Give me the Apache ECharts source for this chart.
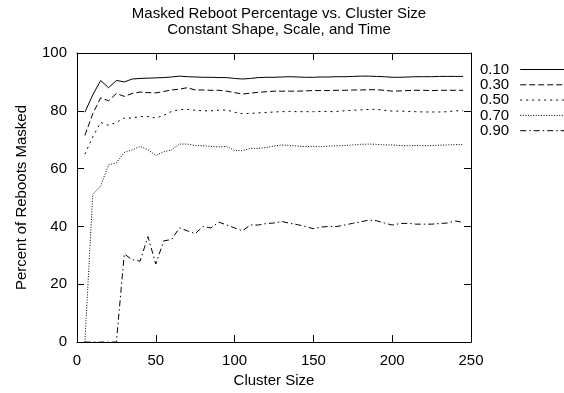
<!DOCTYPE html>
<html>
<head>
<meta charset="utf-8">
<title>Masked Reboot Percentage vs. Cluster Size</title>
<script src="https://cdn.jsdelivr.net/npm/echarts@6/dist/echarts.min.js"></script>
<style>
  html, body { margin: 0; padding: 0; background: #fff; }
  #chart { width: 564px; height: 393px; }
</style>
</head>
<body>
<div id="chart"></div>
<script>
// cluster sizes sampled every 5
const clusterSize = [5, 10, 15, 20, 25, 30, 35, 40, 45, 50, 55, 60, 65, 70, 75, 80, 85, 90, 95, 100,
  105, 110, 115, 120, 125, 130, 135, 140, 145, 150, 155, 160, 165, 170, 175, 180, 185, 190, 195, 200,
  205, 210, 215, 220, 225, 230, 235, 240, 245];

const seriesNames = ['0.10', '0.30', '0.50', '0.70', '0.90'];

const p010 = [79.5, 85.5, 90.5, 88, 90.5, 90, 91, 91.2, 91.3, 91.4, 91.5, 91.7, 92, 91.8, 91.7, 91.6, 91.6, 91.5, 91.5, 91.2,
  91, 91.2, 91.5, 91.6, 91.6, 91.7, 91.8, 91.7, 91.6, 91.6, 91.7, 91.7, 91.8, 91.8, 91.9, 92, 92, 91.9, 91.8, 91.6,
  91.6, 91.7, 91.8, 91.8, 91.8, 91.9, 91.9, 91.9, 91.9];
const p030 = [71.5, 79, 84.5, 83.5, 86, 85, 86, 86.5, 86.3, 86.2, 86.7, 87.2, 87.5, 88, 87.2, 87.2, 87.1, 87.1, 86.8, 86.3,
  85.8, 86.1, 86.4, 86.6, 86.8, 86.8, 86.8, 86.8, 86.9, 87, 87, 87, 87.1, 87.1, 87.2, 87.2, 87.3, 87.3, 87.1, 86.8,
  86.9, 87, 87.1, 87.1, 87, 87.1, 87.1, 87.1, 87.1];
const p050 = [65, 71, 76, 75, 76, 77.5, 77.5, 78, 78, 77.5, 78.4, 79.8, 80.4, 80.5, 80.2, 80, 80, 80.2, 80.3, 79.5,
  79, 79.1, 79.3, 79.4, 79.6, 79.7, 79.8, 79.7, 79.7, 79.7, 79.8, 79.7, 79.8, 80, 80.2, 80.3, 80.5, 80.5, 80.2, 79.9,
  79.9, 79.8, 79.7, 79.6, 79.6, 79.6, 79.7, 80, 80];
const p070 = [0, 51, 54, 61.3, 62, 65.6, 66.5, 67.7, 66.5, 64.6, 65.8, 66.5, 68.5, 68.5, 68, 67.9, 67.7, 67.5, 67.7, 66.3,
  66.2, 67, 67, 67.3, 67.8, 68.2, 68, 67.8, 67.6, 67.7, 67.6, 67.8, 67.9, 68, 68.2, 68.4, 68.5, 68.4, 68.2, 68.2,
  68, 67.9, 68, 67.9, 68, 68.1, 68.2, 68.3, 68.4];
const p090 = [0, 0, 0, 0, 0, 30.5, 28.5, 28, 36.5, 27, 35, 35.5, 39.5, 38.5, 37.5, 40, 39.5, 41.5, 40.5, 39.5,
  38.5, 40.5, 40.5, 41, 41.2, 41.7, 41.1, 40.6, 40, 39.2, 39.8, 40, 40, 40.5, 41.1, 41.6, 42.2, 42, 41.2, 40.5,
  41, 41.1, 40.8, 40.8, 40.8, 41, 41.2, 41.9, 41.4];

const xTicks = [0, 50, 100, 150, 200, 250];
const yTicks = [0, 20, 40, 60, 80, 100];

const FONT = 'Liberation Sans, Arial, sans-serif';
const INK = '#000';
const dashes = ['solid', [6, 3], [2, 4], [1, 1.6], [6, 3, 1.5, 3]];
const values = [p010, p030, p050, p070, p090];

function pairs(ys) {
  return clusterSize.map((x, i) => [x, ys[i]]);
}

// gnuplot-style frame: every side drawn, ticks pointing in
const frameAxis = (show) => ({
  axisLine: { show: true, onZero: false, lineStyle: { color: INK, width: 1 } },
  axisTick: { show: true, inside: true, length: 7, lineStyle: { color: INK } },
  splitLine: { show: false },
  axisLabel: { show: show }
});

const chart = echarts.init(document.getElementById('chart'), null, { renderer: 'canvas' });

chart.setOption({
  animation: false,
  backgroundColor: '#fff',
  textStyle: { fontFamily: FONT, color: INK },
  title: {
    text: 'Masked Reboot Percentage vs. Cluster Size\nConstant Shape, Scale, and Time',
    left: 274,
    top: 1,
    textAlign: 'center',
    textStyle: { fontFamily: FONT, fontSize: 15, fontWeight: 'normal', color: INK, lineHeight: 16 }
  },
  legend: {
    orient: 'vertical',
    left: 475,
    top: 57,
    align: 'right',
    itemWidth: 45,
    itemHeight: 10,
    itemGap: 0.3,
    data: seriesNames,
    lineStyle: { width: 1 },
    itemStyle: { color: 'transparent', borderColor: 'transparent', borderWidth: 0, opacity: 0 },
    textStyle: { fontFamily: FONT, fontSize: 15, color: INK, lineHeight: 15, padding: [0, 6, 0, 0] }
  },
  grid: { left: 77, right: 93, top: 53, bottom: 48 },
  xAxis: [
    Object.assign(frameAxis(true), {
      type: 'value', min: 0, max: 250, interval: 50,
      name: 'Cluster Size', nameLocation: 'middle', nameGap: 30,
      nameTextStyle: { fontFamily: FONT, fontSize: 15, color: INK },
      axisLabel: {
        show: true, margin: 11, fontFamily: FONT, fontSize: 15, color: INK,
        customValues: xTicks
      }
    }),
    Object.assign(frameAxis(false), {
      type: 'value', min: 0, max: 250, interval: 50, position: 'top'
    })
  ],
  yAxis: [
    Object.assign(frameAxis(true), {
      type: 'value', min: 0, max: 100, interval: 20,
      name: 'Percent of Reboots Masked', nameLocation: 'middle', nameGap: 48,
      nameTextStyle: { fontFamily: FONT, fontSize: 15, color: INK },
      axisLabel: {
        show: true, margin: 10, fontFamily: FONT, fontSize: 15, color: INK,
        customValues: yTicks
      }
    }),
    Object.assign(frameAxis(false), {
      type: 'value', min: 0, max: 100, interval: 20, position: 'right'
    })
  ],
  series: seriesNames.map((name, i) => ({
    name: name,
    type: 'line',
    data: pairs(values[i]),
    symbol: 'none',
    color: INK,
    lineStyle: { color: INK, width: 1, type: dashes[i] },
    z: 5 - i
  }))
});
</script>
</body>
</html>
